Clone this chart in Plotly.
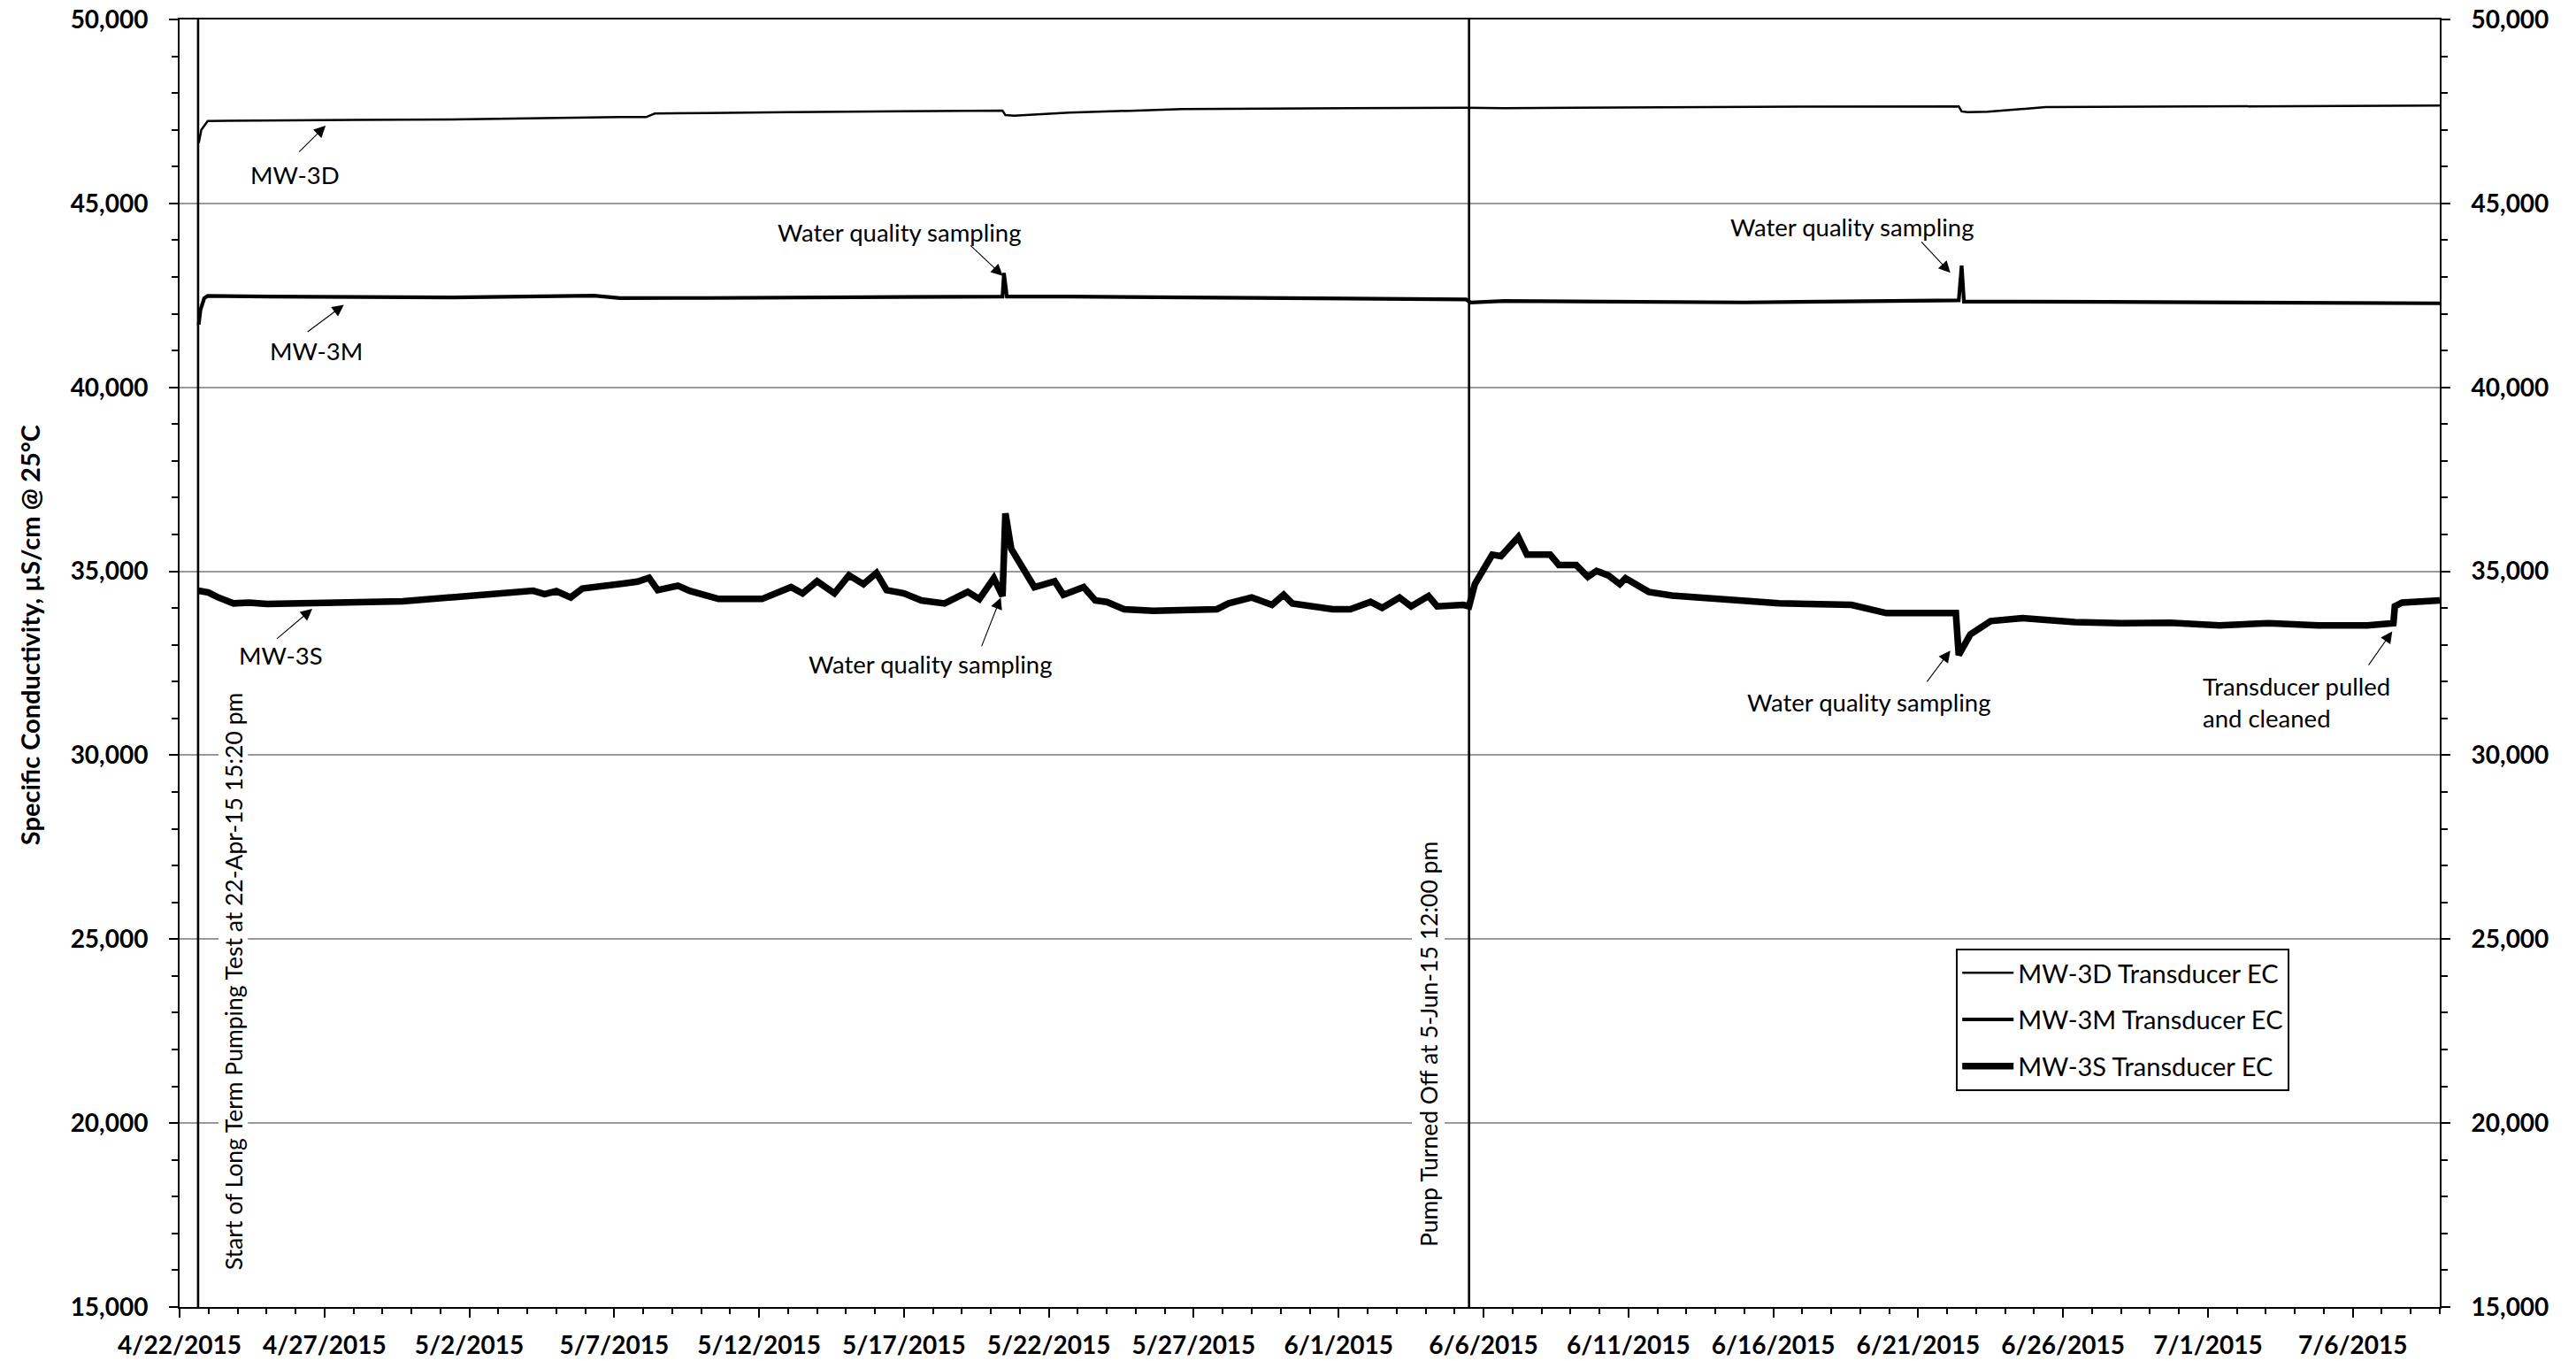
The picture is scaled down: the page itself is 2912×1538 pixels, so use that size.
import pandas as pd
import plotly.graph_objects as go

# ---------------- data (day offsets from 4/22/2015 00:00) ----------------
START_DATE = pd.Timestamp("2015-04-22")
END_DATE = pd.Timestamp("2015-07-09")

d3_days = [0.66, 0.75, 0.97, 3.1, 6.0, 9.4, 12.5, 15.2, 16.1, 16.4, 18.2, 21.0,
           28.4, 28.5, 28.8, 30.7, 34.6, 40.0, 44.4, 45.7, 50.0, 56.1, 61.4,
           61.5, 61.7, 62.4, 64.4, 70.7, 75.0, 78.0]
d3_vals = [46640, 47000, 47240, 47257, 47270, 47281, 47322, 47346, 47346, 47442,
           47457, 47482, 47522, 47400, 47386, 47466, 47563, 47590, 47603, 47590,
           47610, 47630, 47635, 47500, 47482, 47490, 47619, 47635, 47645, 47659]

m3_days = [0.66, 0.72, 0.85, 0.97, 3.1, 9.4, 14.3, 15.2, 18.2, 24.0, 28.4, 28.45,
           28.55, 30.7, 38.5, 44.4, 44.55, 45.7, 54.0, 61.4, 61.5, 61.58, 66.5,
           72.8, 78.0]
m3_vals = [41706, 42100, 42420, 42484, 42468, 42445, 42490, 42428, 42429, 42450,
           42469, 43110, 42469, 42469, 42412, 42388, 42308, 42349, 42308, 42365,
           43311, 42330, 42325, 42308, 42284]

s3_days = [0.65, 1.0, 1.3, 1.86, 2.4, 3.02, 5.0, 7.7, 9.6, 11.2, 12.2, 12.6, 13.0,
           13.5, 13.9, 15.3, 15.8, 16.2, 16.5, 17.2, 17.6, 18.6, 20.1, 21.1, 21.5,
           22.0, 22.6, 23.1, 23.6, 24.05, 24.4, 25.0, 25.6, 26.4, 27.2, 27.6, 28.1,
           28.4, 28.5, 28.7, 29.1, 29.5, 30.2, 30.5, 31.2, 31.6, 32.0, 32.6, 33.6,
           35.8, 36.2, 37.0, 37.7, 38.1, 38.4, 39.8, 40.4, 41.1, 41.5, 42.1, 42.5,
           43.1, 43.4, 44.3, 44.5, 44.7, 45.0, 45.3, 45.6, 45.9, 46.2, 46.5, 47.3,
           47.6, 48.2, 48.6, 48.9, 49.3, 49.7, 49.9, 50.7, 51.5, 52.3, 53.5, 55.2,
           57.7, 58.9, 61.3, 61.4, 61.8, 62.5, 63.6, 65.4, 67.0, 68.7, 70.4, 72.1,
           73.8, 75.5, 76.4, 76.45, 76.7, 78.0]
s3_vals = [34473, 34420, 34300, 34127, 34150, 34112, 34140, 34184, 34304, 34432,
           34470, 34380, 34460, 34290, 34530, 34666, 34720, 34825, 34488, 34608,
           34470, 34247, 34247, 34569, 34400, 34730, 34400, 34890, 34650, 34955,
           34488, 34400, 34208, 34127, 34440, 34247, 34810, 34325, 36574, 35611,
           35090, 34569, 34730, 34360, 34569, 34208, 34167, 33968, 33928, 33968,
           34127, 34288, 34087, 34360, 34127, 33968, 33968, 34167, 34007, 34288,
           34047, 34328, 34047, 34087, 34047, 34650, 35050, 35451, 35410, 35691,
           35931, 35451, 35451, 35170, 35170, 34850, 35010, 34890, 34650, 34810,
           34440, 34340, 34288, 34208, 34127, 34087, 33863, 33863, 32724, 33285,
           33646, 33727, 33620, 33590, 33600, 33530, 33590, 33530, 33530, 33590,
           34050, 34150, 34208]

series_names = ["MW-3D Transducer EC", "MW-3M Transducer EC", "MW-3S Transducer EC"]
event_times = ["2015-04-22 15:20", "2015-06-05 12:00"]
event_labels = ["Start of Long Term Pumping Test at 22-Apr-15 15:20 pm",
                "Pump Turned Off at 5-Jun-15 12:00 pm"]
y_title = "Specific Conductivity, µS/cm @ 25°C"

FONT = "Lato, 'Open Sans', sans-serif"


def to_dates(days):
    return START_DATE + pd.to_timedelta(days, unit="D")


def dt(day):
    return (START_DATE + pd.Timedelta(days=day)).strftime("%Y-%m-%d %H:%M:%S")


fig = go.Figure()
fig.add_trace(go.Scatter(x=to_dates(d3_days), y=d3_vals, mode="lines", name=series_names[0],
                         line=dict(color="black", width=2.5), yaxis="y2", legendgroup="a"))
fig.add_trace(go.Scatter(x=to_dates(m3_days), y=m3_vals, mode="lines", name=series_names[1],
                         line=dict(color="black", width=4.2), legendgroup="b"))
fig.add_trace(go.Scatter(x=to_dates(s3_days), y=s3_vals, mode="lines", name=series_names[2],
                         line=dict(color="black", width=7.5), legendgroup="c"))

# event vertical lines
for t in event_times:
    fig.add_shape(type="line", xref="x", yref="paper", x0=t, x1=t, y0=0, y1=1,
                  line=dict(color="black", width=2.6), layer="above")

# event labels (vertical)
fig.add_annotation(x=dt(1.86), y=23846, text=event_labels[0], textangle=-90, showarrow=False,
                   xanchor="center", yanchor="middle",
                   font=dict(family=FONT, size=26.5, color="black"), bgcolor="white", borderpad=0)
fig.add_annotation(x=dt(43.10), y=22138, text=event_labels[1], textangle=-90, showarrow=False,
                   xanchor="center", yanchor="middle",
                   font=dict(family=FONT, size=26.5, color="black"), bgcolor="white", borderpad=2)

# text labels
texts = [
    ("MW-3D", 3.97, 45790, "center"),
    ("MW-3M", 4.73, 40985, "center"),
    ("MW-3S", 3.51, 32725, "center"),
    ("Water quality sampling", 24.82, 44226, "center"),
    ("Water quality sampling", 25.90, 32484, "center"),
    ("Water quality sampling", 57.71, 44353, "center"),
    ("Water quality sampling", 58.30, 31449, "center"),
    ("Transducer pulled<br>and cleaned", 69.75, 31449, "left"),
]
for txt, d, v, anc in texts:
    fig.add_annotation(x=dt(d), y=v, text=txt, showarrow=False, xanchor=anc, yanchor="middle",
                       align="left", font=dict(family=FONT, size=27.5, color="black"))

# arrows: (tip_day, tip_val, tail_day, tail_val)
arrows = [
    (5.04, 47113, 4.08, 46367),
    (5.67, 42245, 4.37, 41483),
    (4.58, 33978, 3.31, 33135),
    (28.41, 43030, 27.25, 43889),
    (28.34, 34289, 27.66, 32924),
    (61.11, 43112, 60.07, 43992),
    (61.11, 32845, 60.27, 31962),
    (76.36, 33367, 75.51, 32414),
]
for td, tv, sd, sv in arrows:
    fig.add_annotation(x=dt(td), y=tv, ax=dt(sd), ay=sv, axref="x", ayref="y", text="",
                       showarrow=True, arrowhead=2, arrowsize=2.4, arrowwidth=1.1,
                       arrowcolor="black", standoff=0, startstandoff=0)

# y-axis title
fig.add_annotation(xref="paper", yref="paper", x=-0.0665, y=0.5216, text="<b>" + y_title + "</b>",
                   textangle=-90, showarrow=False, xanchor="center", yanchor="middle",
                   font=dict(family=FONT, size=29, color="black"))

tickfont = dict(family=FONT, size=28, color="black", weight="bold")
yaxis_common = dict(range=[15000, 50000], dtick=5000, tick0=0, tickformat=",d",
                    ticks="outside", ticklen=10, tickwidth=2, tickcolor="black",
                    showline=True, linecolor="black", linewidth=2,
                    tickfont=tickfont, ticklabelstandoff=18, automargin=False,
                    minor=dict(dtick=1000, ticks="outside", ticklen=7, tickwidth=1.5,
                               tickcolor="black", showgrid=False),
                    zeroline=False)

fig.update_layout(
    width=2912, height=1538,
    margin=dict(l=203, r=154, t=22, b=61, autoexpand=False),
    paper_bgcolor="white", plot_bgcolor="white",
    font=dict(family=FONT, color="black"),
    showlegend=True,
    legend=dict(x=0.786, y=0.2784, xanchor="left", yanchor="top",
                bgcolor="white", bordercolor="black", borderwidth=2,
                font=dict(family=FONT, size=29, color="black"),
                tracegroupgap=12, itemwidth=58),
    xaxis=dict(type="date", range=[START_DATE, END_DATE], tick0=START_DATE,
               dtick=5 * 86400000, tickformat="%-m/%-d/%Y", automargin=False,
               ticks="outside", ticklen=10, tickwidth=2, tickcolor="black",
               showline=True, linecolor="black", linewidth=2, mirror=True,
               showgrid=False, tickfont=tickfont, ticklabelstandoff=7,
               minor=dict(dtick=86400000, ticks="outside", ticklen=6, tickwidth=1.5,
                          tickcolor="black", showgrid=False)),
    yaxis=dict(side="left", showgrid=True, gridcolor="#9a9a9a", gridwidth=1.5, **yaxis_common),
    yaxis2=dict(side="right", overlaying="y", showgrid=False, **yaxis_common),
)

fig.write_html("out.html", config={"displayModeBar": False},
               post_script="document.body.style.margin='0';document.body.style.overflow='hidden';")
